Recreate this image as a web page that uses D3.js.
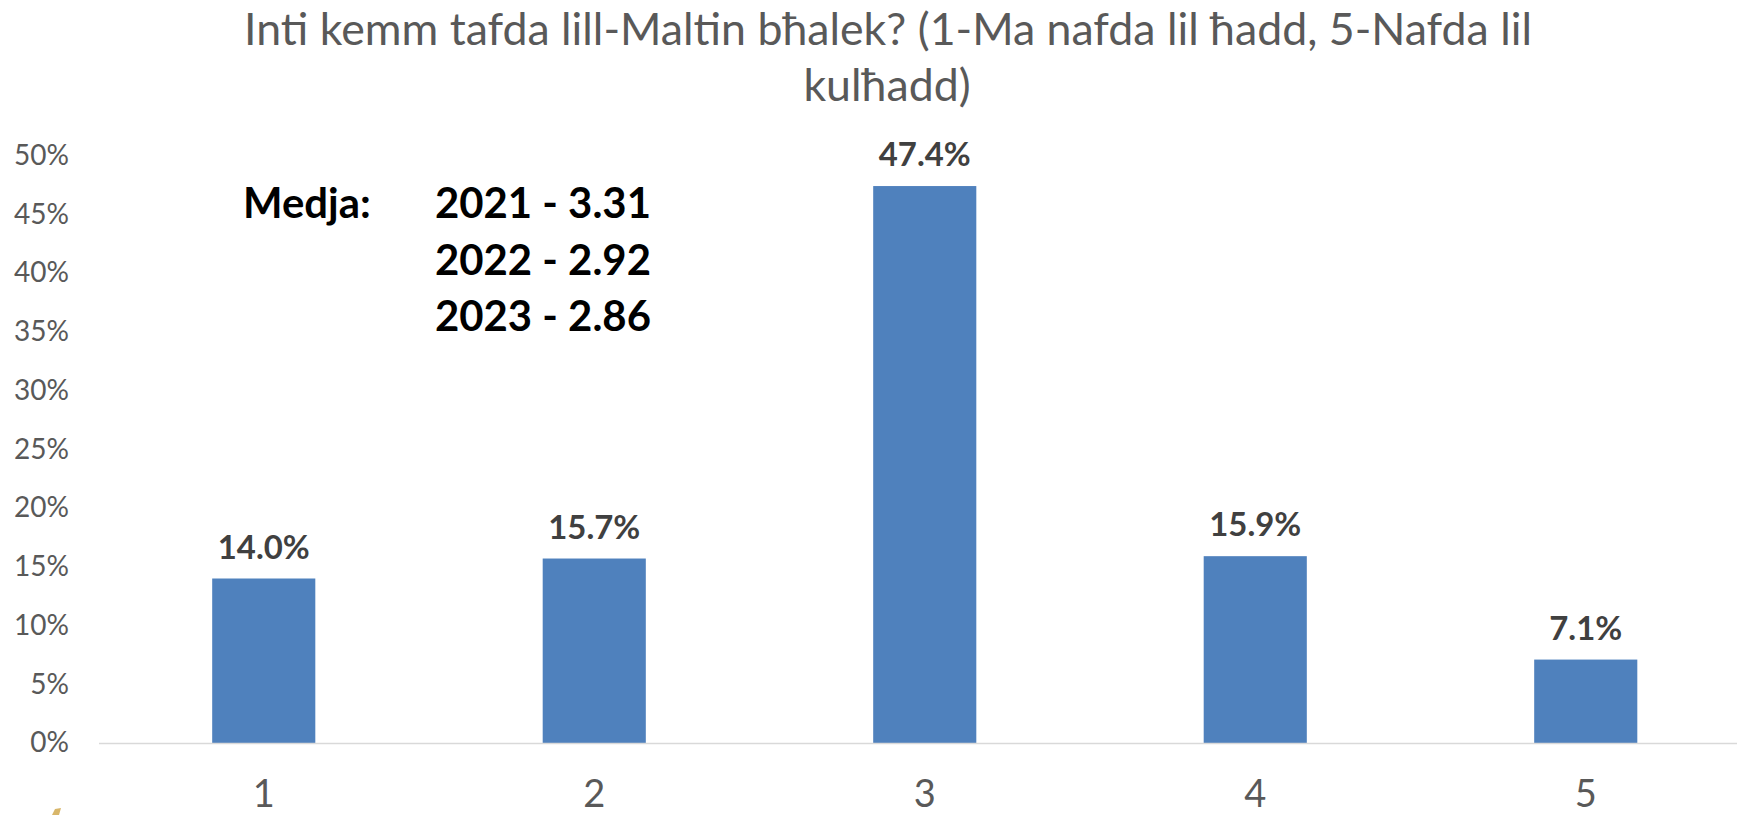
<!DOCTYPE html>
<html>
<head>
<meta charset="utf-8">
<script src="https://cdn.jsdelivr.net/npm/d3@7"></script>
<style>
  html, body { margin: 0; padding: 0; background: #ffffff; }
  svg { display: block; }
  text { font-family: Lato, "Open Sans", "Liberation Sans", sans-serif; }
</style>
</head>
<body>
<svg id="chart" width="1737" height="815"></svg>
<script>
// Survey answers on a 1–5 scale and the share of respondents for each
const categories = ["1", "2", "3", "4", "5"];
const shares = [14.0, 15.7, 47.4, 15.9, 7.1];
const yTicks = [0, 5, 10, 15, 20, 25, 30, 35, 40, 45, 50];
const titleLines = [
  "Inti kemm tafda lill-Maltin bħalek? (1-Ma nafda lil ħadd, 5-Nafda lil",
  "kulħadd)"
];
const meanLabel = "Medja:";
const meanYears = ["2021", "2022", "2023"];
const meanValues = ["3.31", "2.92", "2.86"];

const W = 1737, H = 815;
const svg = d3.select("#chart");

// Scale a text element's font so its rendered width equals target
function fitWidth(sel, target, start) {
  sel.style("font-size", start + "px");
  const w = sel.node().getComputedTextLength();
  const size = start * target / w;
  sel.style("font-size", size + "px");
  return size;
}

const x = d3.scaleBand()
  .domain(categories)
  .range([98.5, 1751])
  .paddingInner(0.688)
  .paddingOuter(0.344);

const y = d3.scaleLinear()
  .domain([0, 50])
  .range([743, 155.5]);

// Title
const title = svg.append("g").attr("class", "title");
const t1 = title.append("text")
  .attr("x", 888).attr("y", 45)
  .attr("text-anchor", "middle")
  .attr("fill", "#595959")
  .text(titleLines[0]);
const titleSize = fitWidth(t1, 1288, 40);
title.append("text")
  .attr("x", 887).attr("y", 101)
  .attr("text-anchor", "middle")
  .attr("fill", "#595959")
  .style("font-size", titleSize + "px")
  .text(titleLines[1]);

// Y axis labels (no axis line, no ticks)
const yAxis = svg.append("g")
  .attr("transform", "translate(69,0)")
  .call(d3.axisLeft(y).tickValues(yTicks).tickSize(0).tickPadding(0)
    .tickFormat(d => d + "%"));
yAxis.select(".domain").remove();
yAxis.selectAll("text")
  .attr("fill", "#595959")
  .attr("font-family", null);
const probe = yAxis.selectAll("text").filter(d => d === 50);
const tickSize = fitWidth(probe, 55, 28);
yAxis.selectAll("text").style("font-size", tickSize + "px");

// Bars
svg.append("g").selectAll("rect")
  .data(categories)
  .join("rect")
  .attr("x", d => x(d))
  .attr("width", x.bandwidth())
  .attr("y", (d, i) => y(shares[i]))
  .attr("height", (d, i) => y(0) - y(shares[i]))
  .attr("fill", "#4F81BD");

// X axis: baseline rule and category labels
const xAxis = svg.append("g")
  .attr("transform", "translate(0," + y(0) + ")")
  .call(d3.axisBottom(x).tickSize(0).tickPadding(0));
xAxis.select(".domain")
  .attr("stroke", "#D9D9D9")
  .attr("stroke-width", 1.5);
xAxis.selectAll("text")
  .attr("font-family", null)
  .attr("fill", "#595959")
  .attr("y", 64)
  .attr("dy", null)
  .style("font-size", "38px");

// Value labels above bars
const vl = svg.append("g").selectAll("text")
  .data(categories)
  .join("text")
  .attr("x", d => x(d) + x.bandwidth() / 2)
  .attr("y", (d, i) => y(shares[i]) - 20)
  .attr("text-anchor", "middle")
  .attr("fill", "#404040")
  .attr("font-weight", "bold")
  .text((d, i) => shares[i].toFixed(1) + "%");
const valSize = fitWidth(vl.filter((d, i) => i === 0), 92, 30);
vl.style("font-size", valSize + "px");

// Mean score note
const note = svg.append("g").attr("class", "note");
const rows = note.selectAll("text.row")
  .data(meanYears)
  .join("text")
  .attr("class", "row")
  .attr("x", 435)
  .attr("y", (d, i) => 218 + i * 56.5)
  .attr("fill", "#000000")
  .attr("font-weight", "bold")
  .text((d, i) => d + " - " + meanValues[i]);
const noteSize = fitWidth(rows.filter((d, i) => i === 0), 216, 40);
rows.style("font-size", noteSize + "px");
note.append("text")
  .attr("x", 243).attr("y", 218)
  .attr("fill", "#000000")
  .attr("font-weight", "bold")
  .style("font-size", noteSize + "px")
  .text(meanLabel);

// Corner of the logo peeking in at the bottom edge
svg.append("path")
  .attr("d", "M55,809 L61,808 L59,815 L52,815 Z")
  .attr("fill", "#D8B66A");
</script>
</body>
</html>
